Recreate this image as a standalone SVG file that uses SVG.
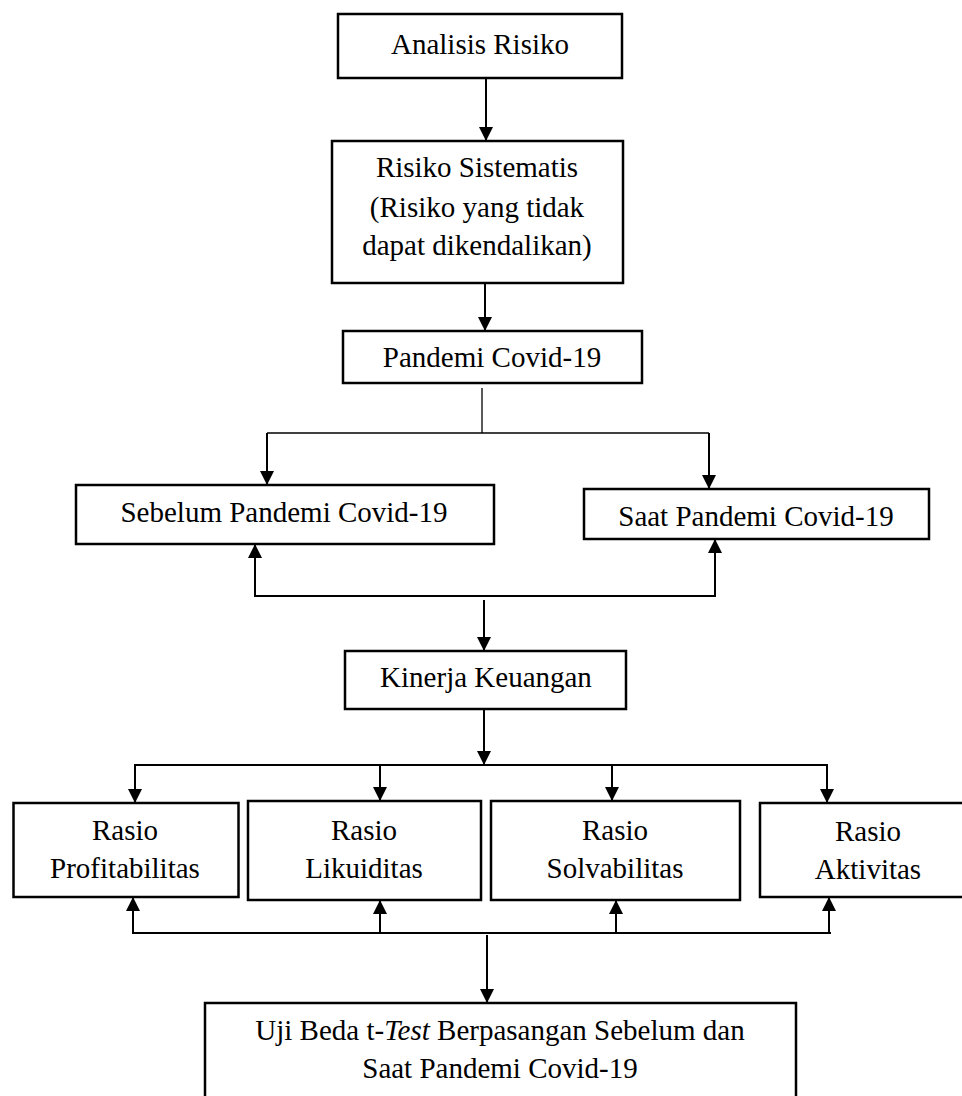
<svg xmlns="http://www.w3.org/2000/svg" width="962" height="1096" viewBox="0 0 962 1096">
<style>
.box{fill:#fff;stroke:#000;stroke-width:2.5}
.t{font-family:"Liberation Serif","Times New Roman",serif;font-size:29px;fill:#000;text-anchor:middle}
.c{fill:none;stroke:#000;stroke-width:2}
.thin{fill:none;stroke:#000;stroke-width:1.3}
</style>
<defs>
<marker id="ah" markerUnits="userSpaceOnUse" markerWidth="15" markerHeight="15" refX="14" refY="7" orient="auto">
<path d="M0,0 L14,7 L0,14 Z" fill="#000"/>
</marker>
</defs>
<rect width="962" height="1096" fill="#fff"/>
<g id="connectors">
<line class="c" x1="486" y1="78" x2="486" y2="141" marker-end="url(#ah)"/>
<line class="c" x1="485" y1="283" x2="485" y2="331" marker-end="url(#ah)"/>
<line class="thin" x1="482" y1="388" x2="482" y2="433"/>
<line class="thin" x1="267" y1="433" x2="709" y2="433"/>
<line class="c" x1="267" y1="433" x2="267" y2="485" marker-end="url(#ah)"/>
<line class="c" x1="709" y1="433" x2="709" y2="489" marker-end="url(#ah)"/>
<polyline class="c" points="255,544 255,596 715,596 715,539"/>
<line class="c" x1="255" y1="596" x2="255" y2="544" marker-end="url(#ah)"/>
<line class="c" x1="715" y1="596" x2="715" y2="539" marker-end="url(#ah)"/>
<line class="c" x1="484" y1="600" x2="484" y2="651" marker-end="url(#ah)"/>
<line class="c" x1="484" y1="709" x2="484" y2="765" marker-end="url(#ah)"/>
<line class="c" x1="134" y1="765" x2="828" y2="765"/>
<line class="c" x1="135" y1="765" x2="135" y2="803" marker-end="url(#ah)"/>
<line class="c" x1="380" y1="765" x2="380" y2="801" marker-end="url(#ah)"/>
<line class="c" x1="612" y1="765" x2="612" y2="801" marker-end="url(#ah)"/>
<line class="c" x1="827" y1="765" x2="827" y2="803" marker-end="url(#ah)"/>
<line class="c" x1="132" y1="933" x2="831" y2="933"/>
<line class="c" x1="133" y1="933" x2="133" y2="897" marker-end="url(#ah)"/>
<line class="c" x1="380" y1="933" x2="380" y2="900" marker-end="url(#ah)"/>
<line class="c" x1="616" y1="933" x2="616" y2="900" marker-end="url(#ah)"/>
<line class="c" x1="829" y1="933" x2="829" y2="897" marker-end="url(#ah)"/>
<line class="c" x1="487" y1="935" x2="487" y2="1003" marker-end="url(#ah)"/>
</g>
<g id="analisis-risiko">
<rect class="box" x="338" y="14" width="284" height="64"/>
<text class="t" x="480" y="54">Analisis Risiko</text>
</g>
<g id="risiko-sistematis">
<rect class="box" x="332" y="141" width="291" height="142"/>
<text class="t" x="477" y="177">Risiko Sistematis</text>
<text class="t" x="477" y="217">(Risiko yang tidak</text>
<text class="t" x="477" y="255">dapat dikendalikan)</text>
</g>
<g id="pandemi">
<rect class="box" x="343" y="331" width="299" height="52"/>
<text class="t" x="492" y="367">Pandemi Covid-19</text>
</g>
<g id="sebelum">
<rect class="box" x="76" y="485" width="418" height="59"/>
<text class="t" x="284" y="522">Sebelum Pandemi Covid-19</text>
</g>
<g id="saat">
<rect class="box" x="584" y="489" width="345" height="50"/>
<text class="t" x="756" y="526">Saat Pandemi Covid-19</text>
</g>
<g id="kinerja">
<rect class="box" x="345" y="651" width="281" height="58"/>
<text class="t" x="486" y="687">Kinerja Keuangan</text>
</g>
<g id="profitabilitas">
<rect class="box" x="13.5" y="803" width="225" height="94"/>
<text class="t" x="125" y="840">Rasio</text>
<text class="t" x="125" y="878">Profitabilitas</text>
</g>
<g id="likuiditas">
<rect class="box" x="248" y="801" width="233" height="99"/>
<text class="t" x="364" y="840">Rasio</text>
<text class="t" x="364" y="878">Likuiditas</text>
</g>
<g id="solvabilitas">
<rect class="box" x="491" y="801" width="249" height="99"/>
<text class="t" x="615" y="840">Rasio</text>
<text class="t" x="615" y="878">Solvabilitas</text>
</g>
<g id="aktivitas">
<rect class="box" x="760" y="803" width="216" height="94"/>
<text class="t" x="868" y="841">Rasio</text>
<text class="t" x="868" y="879">Aktivitas</text>
</g>
<g id="uji-beda">
<rect class="box" x="205" y="1003" width="591" height="120"/>
<text class="t" x="500" y="1040">Uji Beda t-<tspan font-style="italic">Test</tspan> Berpasangan Sebelum dan</text>
<text class="t" x="500" y="1078">Saat Pandemi Covid-19</text>
</g>
</svg>
